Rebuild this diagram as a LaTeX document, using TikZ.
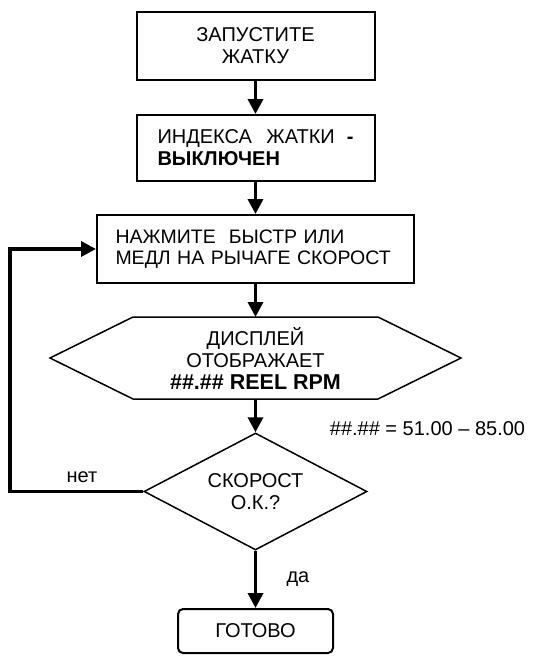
\documentclass[tikz,border=0pt]{standalone}
\usepackage{fontspec}
\setmainfont{Liberation Sans}
\usetikzlibrary{shapes.geometric,arrows.meta}
\tikzset{
  box/.style={draw, rectangle, line width=2pt, minimum width=238pt, minimum height=68pt, align=center},
  flow/.style={line width=3.5pt, -{Triangle[length=15pt,width=15pt]}},
  shape line/.style={line width=1.5pt}
}
\begin{document}
\begin{tikzpicture}[x=1pt,y=-1pt,font=\fontsize{20}{22}\selectfont]
\useasboundingbox (0,0) rectangle (537,656);
\node[box] (start) at (255.5,46) {ЗАПУСТИТЕ\\ЖАТКУ};
\node[box, minimum height=66pt, align=left, text width=196pt, inner xsep=21pt] (index) at (255.5,148) {ИНДЕКСА\hfill ЖАТКИ\hspace{12pt}\textbf{-}\\\textbf{ВЫКЛЮЧЕН}};
\node[box, minimum width=317pt, align=left, text width=280pt, inner xsep=18.5pt, font=\fontsize{19.5}{21}\selectfont] (press) at (255.5,249) {НАЖМИТЕ\ \ БЫСТР ИЛИ\\МЕДЛ НА РЫЧАГЕ СКОРОСТ};
\node[minimum width=411pt, minimum height=82pt, outer sep=0pt, align=center] (display) at (255.5,358) {ДИСПЛЕЙ\\ОТОБРАЖАЕТ\\\fontsize{21.5}{22}\selectfont\textbf{\#\#.\#\# REEL RPM}};
\draw[shape line] (display.west) -- ([xshift=83pt]display.north west) -- ([xshift=-83pt]display.north east) -- (display.east) -- ([xshift=-83pt]display.south east) -- ([xshift=83pt]display.south west) -- cycle;
\node[draw, diamond, shape line, aspect=1.9, inner sep=0pt, minimum width=223pt, minimum height=117pt, align=center] (speed) at (255.5,491.5) {СКОРОСТ\\О.К.?};
\node[box, rounded corners=5pt, minimum width=155pt, minimum height=44pt] (done) at (255.5,631) {ГОТОВО};
\node (range) at (427.5,429) {\#\#.\#\# = 51.00 – 85.00};
\coordinate (back) at (10,491.5);
\draw[flow] (start) -- (index);
\draw[flow] (index) -- (press);
\draw[flow] (press) -- (display);
\draw[flow] (display) -- (speed);
\draw[flow] (speed) -- node[pos=0.49, right=26pt] {да} (done);
\draw[flow] (speed.west) -- node[pos=0.46, above=4pt] {нет} (back) |- (press.west);
\end{tikzpicture}
\end{document}
